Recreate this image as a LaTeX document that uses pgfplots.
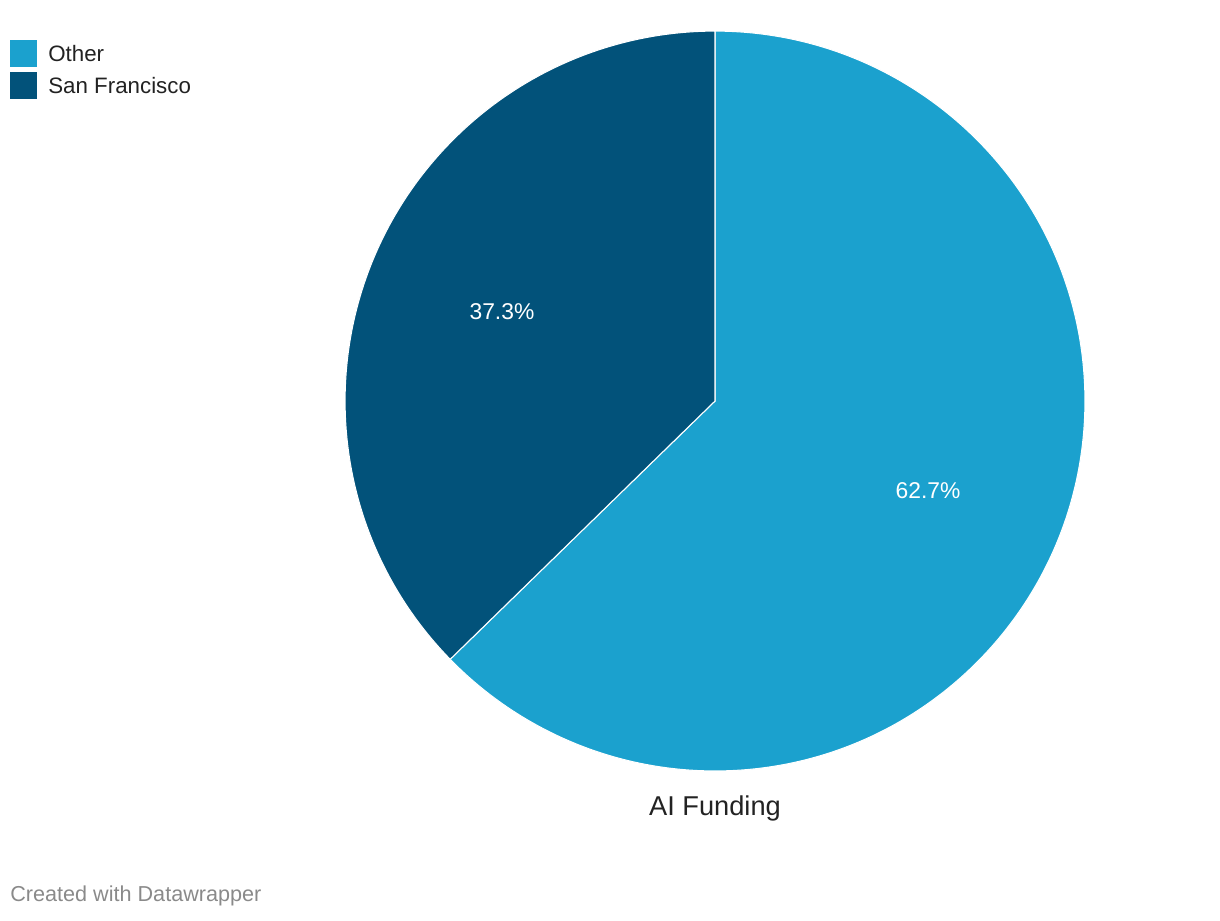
\documentclass[border=0pt]{standalone}
\usepackage{pgfplots}
\usepackage{pgfplotstable}
\pgfplotsset{compat=1.18}
\usetikzlibrary{calc}
\usepackage{fontspec}
\setmainfont{Liberation Sans}

\definecolor{cOther}{HTML}{1BA1CE}
\definecolor{cSF}{HTML}{02527A}
\definecolor{txt}{HTML}{222222}
\definecolor{foot}{HTML}{8A8A8A}

\pgfplotstableread{
label value
Other 62.7
SF 37.3
}\funding

\begin{document}
\begin{tikzpicture}
\pgfplotstablegetelem{0}{value}\of\funding \let\vOther\pgfplotsretval
\pgfplotstablegetelem{1}{value}\of\funding \let\vSF\pgfplotsretval
\pgfmathsetmacro{\aEnd}{90-3.6*\vOther}
\pgfmathsetmacro{\aMidO}{90-1.8*\vOther}
\pgfmathsetmacro{\aMidS}{\aEnd-1.8*\vSF}
\def\R{7.4cm}
\begin{axis}[x=0.02cm, y=0.02cm, y dir=reverse,
    xmin=0, xmax=1220, ymin=0, ymax=920,
    hide axis, clip=false, anchor=north west, at={(0,0)}]
\path (rel axis cs:0,0) rectangle (rel axis cs:1,1);
% slices
\fill[cOther, draw=white, line width=0.6pt] (axis cs:715,401) -- ++(90:\R)
    arc[start angle=90, end angle=\aEnd, radius=\R] -- cycle;
\fill[cSF, draw=white, line width=0.6pt] (axis cs:715,401) -- ++(\aEnd:\R)
    arc[start angle=\aEnd, end angle=-270, radius=\R] -- cycle;
% value labels
\node[white, font=\fontsize{13}{15}\selectfont] at ($(axis cs:715,401)+(\aMidO:0.625*\R)$) {\vOther\%};
\node[white, font=\fontsize{13}{15}\selectfont] at ($(axis cs:715,401)+(\aMidS:0.625*\R)$) {\vSF\%};
% legend
\fill[cOther] (axis cs:10,40) rectangle (axis cs:37,67);
\fill[cSF] (axis cs:10,72) rectangle (axis cs:37,99);
\node[txt, anchor=west, inner sep=0pt, font=\fontsize{12.7}{15}\selectfont] at (axis cs:48,54) {Other};
\node[txt, anchor=west, inner sep=0pt, font=\fontsize{12.7}{15}\selectfont] at (axis cs:48,86) {San Francisco};
% category label and footer
\node[txt, font=\fontsize{15.5}{18}\selectfont] at (axis cs:715,808) {AI Funding};
\node[foot, anchor=west, inner sep=0pt, font=\fontsize{12.3}{15}\selectfont] at (axis cs:10,896) {Created with Datawrapper};
\end{axis}
\end{tikzpicture}
\end{document}
